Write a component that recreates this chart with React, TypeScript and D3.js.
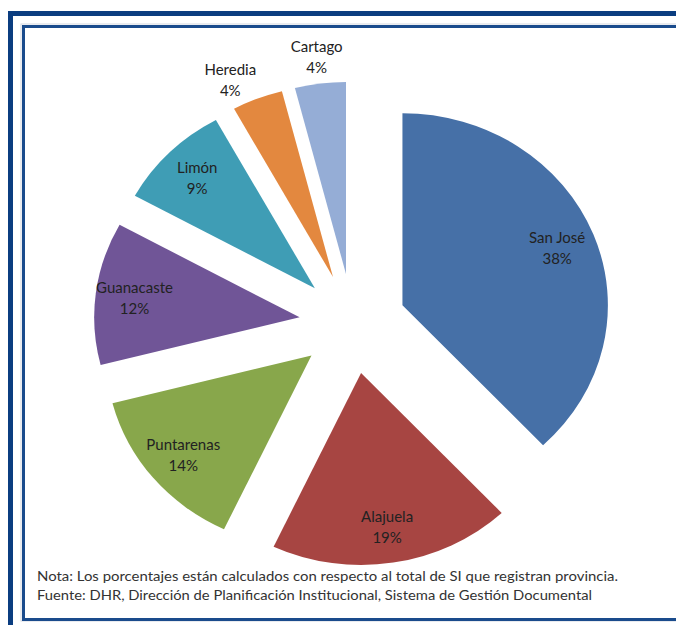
import React from 'react';
import * as d3 from 'd3';

const categories = ['San José', 'Alajuela', 'Puntarenas', 'Guanacaste', 'Limón', 'Heredia', 'Cartago'];
const values = [38, 19, 14, 12, 9, 4, 4];
const colors = ['#4670a7', '#a74542', '#88a74b', '#705597', '#3f9db5', '#e3883f', '#95add6'];
const notes = [
  'Nota: Los porcentajes están calculados con respecto al total de SI que registran provincia.',
  'Fuente: DHR, Dirección de Planificación Institucional, Sistema de Gestión Documental',
];

const W = 676;
const H = 625;
const cx = 352.7;
const cy = 323.6;
const R = 192;
const explode = 50;
const sx = 1.07;

export default function App() {
  const pie = d3.pie<number>().sort(null).value((d) => d)(values);
  const arc = d3.arc<d3.PieArcDatum<number>>().innerRadius(0).outerRadius(R);
  const font = 'Lato, "Open Sans", sans-serif';

  return (
    <svg width={W} height={H} style={{ position: 'absolute', left: 0, top: 0, background: '#fff' }}>
      <rect x={0} y={0} width={W} height={H} fill="#fff" />
      {/* outer frame */}
      <rect x={10.5} y={13.5} width={W + 20} height={H + 20} fill="none" stroke="#0b3d80" strokeWidth={5} />
      {/* inner frame shadow + line */}
      <rect x={21} y={24} width={W + 20} height={597} fill="none" stroke="#d4d8e0" strokeWidth={1} />
      <rect x={23.5} y={26.5} width={W + 20} height={593} fill="none" stroke="#1a4b8c" strokeWidth={3} />

      <g transform={`translate(${cx},${cy}) scale(${sx},1)`}>
        {pie.map((p, i) => {
          const mid = (p.startAngle + p.endAngle) / 2;
          const ox = explode * Math.sin(mid);
          const oy = -explode * Math.cos(mid);
          return (
            <path key={i} d={arc(p) || ''} transform={`translate(${ox},${oy})`} fill={colors[i]} />
          );
        })}
      </g>

      {pie.map((p, i) => {
        const mid = (p.startAngle + p.endAngle) / 2;
        const ox = explode * Math.sin(mid);
        const oy = -explode * Math.cos(mid);
        const outside = values[i] < 5;
        const r = outside ? 1.14 * R : 0.81 * R;
        // outside labels are spread apart slightly (left one pushed further left)
        const a = outside && i === values.length - 2 ? mid - 0.077 : mid;
        const x = cx + sx * (ox + r * Math.sin(a));
        const y = cy + oy - r * Math.cos(a);
        return (
          <text key={i} x={x} textAnchor="middle" fontFamily={font} fontSize={15} fill="#222">
            <tspan x={x} y={y - 5}>{categories[i]}</tspan>
            <tspan x={x} y={y + 16}>{`${values[i]}%`}</tspan>
          </text>
        );
      })}

      <text x={37} y={581} fontFamily={font} fontSize={12.5} fill="#333" textLength={581} lengthAdjust="spacingAndGlyphs">
        {notes[0]}
      </text>
      <text x={37} y={600} fontFamily={font} fontSize={12.5} fill="#333" textLength={555} lengthAdjust="spacingAndGlyphs">
        {notes[1]}
      </text>
    </svg>
  );
}
